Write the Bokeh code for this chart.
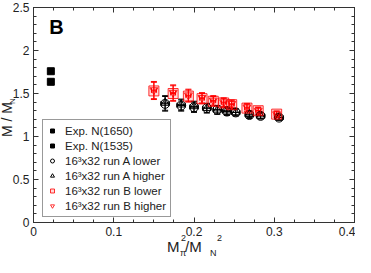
from bokeh.plotting import figure
from bokeh.models import (ColumnDataSource, Whisker, TeeHead, Legend, LegendItem,
                          LinearAxis, SingleIntervalTicker, Label, Range1d,
                          CustomJSTickFormatter, Div)
from bokeh.layouts import column
from bokeh.embed import file_html
from bokeh.resources import INLINE

# ---- data ----
exp_labels = ["Exp. N(1650)", "Exp. N(1535)"]
exp_x = [0.0216, 0.0216]
exp_y = [1.759, 1.636]

runA_x = [0.164, 0.184, 0.200, 0.216, 0.229, 0.241, 0.252, 0.269, 0.283, 0.306]
runA_lower_y = [1.38, 1.36, 1.34, 1.33, 1.31, 1.29, 1.28, 1.25, 1.24, 1.22]
runA_higher_y = [1.39, 1.37, 1.35, 1.33, 1.31, 1.30, 1.28, 1.26, 1.24, 1.22]
runA_yerr = [0.085, 0.065, 0.06, 0.055, 0.05, 0.045, 0.04, 0.04, 0.035, 0.03]
runA_xerr = [0.005, 0.005, 0.005, 0.005, 0.005, 0.005, 0.005, 0.005, 0.005, 0.005]

runB_x = [0.150, 0.174, 0.193, 0.210, 0.224, 0.237, 0.247, 0.266, 0.280, 0.303]
runB_lower_y = [1.53, 1.50, 1.47, 1.44, 1.41, 1.39, 1.37, 1.33, 1.30, 1.26]
runB_higher_y = [1.54, 1.51, 1.48, 1.45, 1.42, 1.40, 1.38, 1.34, 1.30, 1.26]
runB_yerr = [0.10, 0.09, 0.07, 0.06, 0.055, 0.05, 0.045, 0.045, 0.04, 0.035]
runB_xerr = [0.003, 0.003, 0.003, 0.003, 0.003, 0.003, 0.003, 0.003, 0.003, 0.003]

legend_labels = ["16³x32 run A lower", "16³x32 run A higher",
                 "16³x32 run B lower", "16³x32 run B higher"]

FONT = "Liberation Sans"
AX = "#333333"

p = figure(width=355, height=241, output_backend="svg", toolbar_location=None,
           x_range=Range1d(0, 0.4), y_range=Range1d(0, 2.5),
           min_border_left=33, min_border_right=1, min_border_top=7, min_border_bottom=19,
           margin=0)
p.xgrid.visible = False
p.ygrid.visible = False
p.outline_line_color = AX
p.background_fill_color = "white"

p.xaxis.ticker = SingleIntervalTicker(interval=0.1, num_minor_ticks=4)
p.yaxis.ticker = SingleIntervalTicker(interval=0.5, num_minor_ticks=5)

def style_axis(ax, show_labels=True):
    ax.axis_line_color = AX
    ax.major_tick_line_color = AX
    ax.minor_tick_line_color = AX
    ax.major_tick_in = 5
    ax.major_tick_out = 0
    ax.minor_tick_in = 3
    ax.minor_tick_out = 0
    ax.major_label_text_font = FONT
    ax.major_label_text_color = "#222222"
    ax.axis_label_standoff = 0
    if show_labels:
        ax.major_label_text_font_size = "12px"
        ax.major_label_standoff = 4
    else:
        ax.major_label_text_font_size = "1px"
        ax.major_label_standoff = 0
        ax.formatter = CustomJSTickFormatter(code="return ''")

for ax in p.xaxis + p.yaxis:
    style_axis(ax)

top = LinearAxis(ticker=SingleIntervalTicker(interval=0.1, num_minor_ticks=4))
right = LinearAxis(ticker=SingleIntervalTicker(interval=0.5, num_minor_ticks=5))
style_axis(top, False)
style_axis(right, False)
p.add_layout(top, "above")
p.add_layout(right, "right")

# ---- error bars ----
def errbars(x, y, yerr, xerr, color):
    src = ColumnDataSource(dict(
        x=x, y=y,
        yl=[a - b for a, b in zip(y, yerr)], yu=[a + b for a, b in zip(y, yerr)],
        xl=[a - b for a, b in zip(x, xerr)], xu=[a + b for a, b in zip(x, xerr)]))
    wv = Whisker(source=src, base="x", lower="yl", upper="yu", dimension="height",
                 line_color=color, line_width=1,
                 upper_head=TeeHead(size=6, line_color=color),
                 lower_head=TeeHead(size=6, line_color=color))
    wh = Whisker(source=src, base="y", lower="xl", upper="xu", dimension="width",
                 line_color=color, line_width=1,
                 upper_head=TeeHead(size=4, line_color=color),
                 lower_head=TeeHead(size=4, line_color=color))
    p.add_layout(wv)
    p.add_layout(wh)

errbars(runA_x, runA_lower_y, runA_yerr, runA_xerr, "black")
errbars(runA_x, runA_higher_y, runA_yerr, runA_xerr, "black")
errbars(runB_x, runB_lower_y, runB_yerr, runB_xerr, "red")
errbars(runB_x, runB_higher_y, runB_yerr, runB_xerr, "red")

# ---- markers ----
r_e1 = p.scatter([exp_x[0]], [exp_y[0]], marker="square", size=7, color="black")
r_e2 = p.scatter([exp_x[1]], [exp_y[1]], marker="square", size=7, color="black")
r_al = p.scatter(runA_x, runA_lower_y, marker="circle", size=9, fill_color=None,
                 line_color="black", line_width=1)
r_ah = p.scatter(runA_x, runA_higher_y, marker="triangle", size=8, fill_color=None,
                 line_color="black", line_width=1)
r_bl = p.scatter(runB_x, runB_lower_y, marker="square", size=10, fill_color="red",
                 fill_alpha=0.15, line_color="red", line_alpha=0.8, line_width=1)
r_bh = p.scatter(runB_x, runB_higher_y, marker="inverted_triangle", size=8, fill_color=None,
                 line_color="red", line_alpha=0.8, line_width=1)

legend = Legend(items=[
    LegendItem(label=exp_labels[0], renderers=[r_e1]),
    LegendItem(label=exp_labels[1], renderers=[r_e2]),
    LegendItem(label=legend_labels[0], renderers=[r_al]),
    LegendItem(label=legend_labels[1], renderers=[r_ah]),
    LegendItem(label=legend_labels[2], renderers=[r_bl]),
    LegendItem(label=legend_labels[3], renderers=[r_bh]),
], location=(9, 5))
legend.label_text_font = FONT
legend.label_text_font_size = "11.5px"
legend.label_text_color = "#222222"
legend.label_height = 13
legend.glyph_height = 13
legend.glyph_width = 10
legend.spacing = 2
legend.padding = 4
legend.margin = 0
legend.label_standoff = 8
legend.border_line_color = AX
legend.border_line_width = 1
legend.background_fill_alpha = 1
p.add_layout(legend, "center")

# ---- panel letter ----
p.add_layout(Label(x=0.0195, y=2.15, text="B", text_font=FONT, text_font_style="bold",
                   text_font_size="20px", text_color="black"))

# ---- axis titles as HTML (sub/superscripts), positioned relative to the strip below ----
def span(left, top, txt, size, extra=""):
    return (f'<span style="position:absolute; left:{left}px; top:{top}px; '
            f'font-size:{size}px; line-height:1; white-space:nowrap; {extra}">{txt}</span>')

base_css = f"font-family:'{FONT}'; color:#222222;"
rot = "transform:rotate(-90deg); transform-origin:0 0;"
html = (f'<div style="position:relative; width:355px; height:16px; {base_css}">'
        # x title: M_pi^2 / M_N^2
        + span(167, -2, "M", 15)
        + span(180, 8, "π", 9)
        + span(181, -7, "2", 9)
        + span(185, -2, "/M", 15)
        + span(210, 8, "N", 9)
        + span(217, -7, "2", 9)
        # y title: M / M_N (rotated)
        + span(0, -104, "M / M", 14, rot)
        + span(9, -137, "N", 8, rot)
        + '</div>')

tdiv = Div(text=html, width=355, height=16, margin=0, styles={"overflow": "visible"})

layout = column(p, tdiv, spacing=0, margin=0)

open("out.html", "w").write(file_html(layout, INLINE))
